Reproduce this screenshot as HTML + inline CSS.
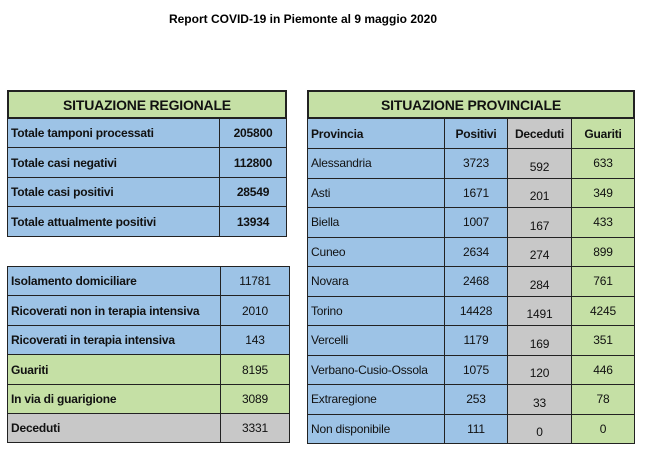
<!DOCTYPE html>
<html><head><meta charset="utf-8"><style>
body{margin:0;width:650px;height:455px;background:#fff;font-family:"Liberation Sans",sans-serif;position:relative;overflow:hidden}
.c{position:absolute;box-sizing:border-box;border:1px solid #222;font-size:12px;color:#111;display:flex;align-items:center;white-space:nowrap;letter-spacing:-0.2px}
.b{background:#9dc3e6}.g{background:#c5e0a5}.y{background:#c8c8c8}
.l{padding-left:3px}.m{justify-content:center}
.B{font-weight:bold}
.h{font-weight:bold;font-size:14px;justify-content:center}
.d{padding-top:7px}
</style></head><body>
<div style="position:absolute;left:0;width:606px;top:12px;text-align:center;font-weight:bold;font-size:12px">Report COVID-19 in Piemonte al 9 maggio 2020</div>

<div class="c g h" style="left:7px;top:90px;width:280px;height:29px;border-width:2px">SITUAZIONE REGIONALE</div>
<div class="c b l B" style="left:7px;top:118px;width:213px;height:30px">Totale tamponi processati</div><div class="c b m B" style="left:219px;top:118px;width:68px;height:30px">205800</div>
<div class="c b l B" style="left:7px;top:147px;width:213px;height:31px">Totale casi negativi</div><div class="c b m B" style="left:219px;top:147px;width:68px;height:31px">112800</div>
<div class="c b l B" style="left:7px;top:177px;width:213px;height:30px">Totale casi positivi</div><div class="c b m B" style="left:219px;top:177px;width:68px;height:30px">28549</div>
<div class="c b l B" style="left:7px;top:206px;width:213px;height:31px">Totale attualmente positivi</div><div class="c b m B" style="left:219px;top:206px;width:68px;height:31px">13934</div>

<div class="c b l B" style="left:7px;top:266px;width:214px;height:30px">Isolamento domiciliare</div><div class="c b m" style="left:220px;top:266px;width:70px;height:30px">11781</div>
<div class="c b l B" style="left:7px;top:295px;width:214px;height:31px">Ricoverati non in terapia intensiva</div><div class="c b m" style="left:220px;top:295px;width:70px;height:31px">2010</div>
<div class="c b l B" style="left:7px;top:325px;width:214px;height:30px">Ricoverati in terapia intensiva</div><div class="c b m" style="left:220px;top:325px;width:70px;height:30px">143</div>
<div class="c g l B" style="left:7px;top:354px;width:214px;height:31px">Guariti</div><div class="c g m" style="left:220px;top:354px;width:70px;height:31px">8195</div>
<div class="c g l B" style="left:7px;top:384px;width:214px;height:30px">In via di guarigione</div><div class="c g m" style="left:220px;top:384px;width:70px;height:30px">3089</div>
<div class="c y l B" style="left:7px;top:413px;width:214px;height:30px">Deceduti</div><div class="c y m" style="left:220px;top:413px;width:70px;height:30px">3331</div>

<div class="c g h" style="left:307px;top:90px;width:328px;height:29px;border-width:2px">SITUAZIONE PROVINCIALE</div>
<div class="c b l B" style="left:307px;top:118px;width:138px;height:31px">Provincia</div>
<div class="c b m B" style="left:444px;top:118px;width:64px;height:31px">Positivi</div>
<div class="c y m B" style="left:507px;top:118px;width:65px;height:31px">Deceduti</div>
<div class="c g m B" style="left:571px;top:118px;width:64px;height:31px">Guariti</div>

<div id="rows"></div>
<script>
var d=[["Alessandria",3723,592,633],["Asti",1671,201,349],["Biella",1007,167,433],["Cuneo",2634,274,899],["Novara",2468,284,761],["Torino",14428,1491,4245],["Vercelli",1179,169,351],["Verbano-Cusio-Ossola",1075,120,446],["Extraregione",253,33,78],["Non disponibile",111,0,0]];
var h="";
d.forEach(function(r,i){var t=148+i*29.5,hh=30.5;
h+='<div class="c b l" style="left:307px;top:'+t+'px;width:138px;height:'+hh+'px">'+r[0]+'</div>'+
'<div class="c b m" style="left:444px;top:'+t+'px;width:64px;height:'+hh+'px">'+r[1]+'</div>'+
'<div class="c y m d" style="left:507px;top:'+t+'px;width:65px;height:'+hh+'px">'+r[2]+'</div>'+
'<div class="c g m" style="left:571px;top:'+t+'px;width:64px;height:'+hh+'px">'+r[3]+'</div>';});
document.getElementById("rows").innerHTML=h;
</script>
</body></html>
